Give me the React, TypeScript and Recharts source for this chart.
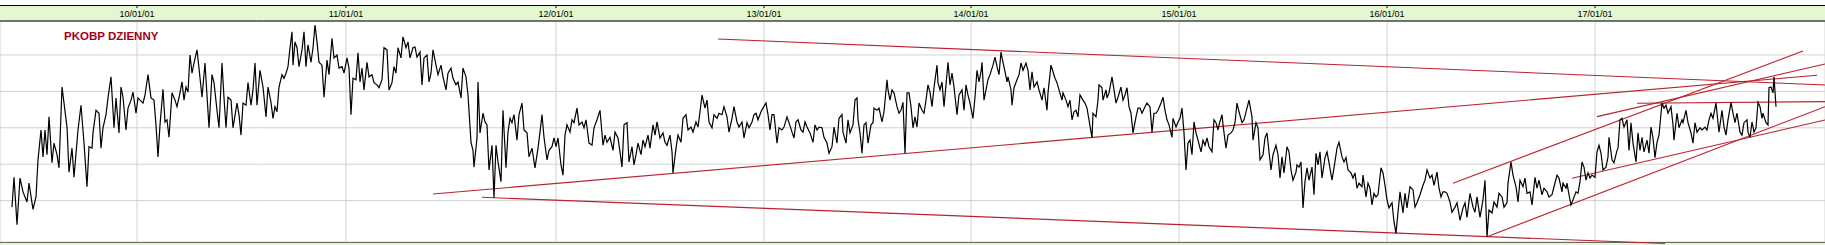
import React from 'react';
import { LineChart, Line, XAxis, YAxis, CartesianGrid, ReferenceLine } from 'recharts';

const TITLE = 'PKOBP DZIENNY';

// bar index (session position) where each year starts, and its label
const yearStartBars = [137, 346, 556, 764, 971, 1179, 1387, 1595];
const yearLabels = ['10/01/01', '11/01/01', '12/01/01', '13/01/01', '14/01/01', '15/01/01', '16/01/01', '17/01/01'];
const priceGrid = [20, 25, 30, 35, 40, 45];

const BAR_MIN = 0;
const BAR_MAX = 1825;
const PRICE_MIN = 19.31;
const PRICE_MAX = 49.67;

// [bar, close]
const y2009: [number, number][] = [[12,24.1],[14,28.2],[17,21.7],[20,28.1],[23,26.2],[27,24.8],[29,27.4],[33,23.8],[36,25.5],[38,30.6],[41,34.7],[43,31.0],[45,34.7],[47,31.3],[49,36.5],[52,30.2],[54,32.9],[57,31.3],[59,29.5],[62,40.6],[67,35.1],[69,28.9],[72,32.2],[74,28.2],[78,34.7],[81,38.1],[84,32.9],[87,26.9],[89,32.4],[92,32.2],[93,34.3],[96,37.4],[99,37.0],[101,32.2],[103,35.0],[106,36.8],[108,39.1],[111,42.0],[114,35.0],[116,39.1],[119,34.3],[121,40.6],[123,39.2],[126,34.7],[128,37.7],[131,38.8],[133,39.9],[136,37.0]];
const y2010: [number, number][] = [[138,39.1],[140,38.8],[143,38.4],[145,39.5],[148,42.3],[151,39.1],[154,38.8],[156,35.4],[158,31.0],[160,35.4],[163,40.3],[165,35.8],[167,36.1],[169,33.7],[172,39.8],[175,38.8],[177,37.9],[180,39.8],[182,41.3],[184,38.8],[186,40.6],[188,39.9],[190,45.0],[192,42.5],[194,43.9],[197,45.7],[199,43.2],[202,39.2],[205,43.9],[209,35.0],[212,42.3],[214,41.2],[217,37.4],[219,35.0],[222,43.9],[224,39.1],[226,35.0],[228,39.2],[231,38.8],[233,35.0],[237,38.4],[239,36.8],[241,34.0],[243,38.4],[246,38.1],[248,41.2],[251,38.1],[253,40.2],[255,43.9],[257,38.1],[260,42.9],[263,40.6],[266,36.5],[268,40.6],[271,38.5],[273,36.3],[275,37.9],[277,37.2],[279,40.6],[282,42.3],[284,41.8],[286,42.5],[288,43.4],[290,46.0],[292,48.2],[293,43.6],[295,46.8],[297,46.0],[299,43.4],[302,45.7],[304,48.2],[306,43.4],[308,46.4],[311,44.0],[313,46.0],[315,49.1],[317,46.8],[319,44.0],[322,43.6],[324,39.2],[327,44.3],[329,42.3],[332,47.3],[334,44.6],[337,45.0],[339,43.2],[342,43.4],[344,42.5]];
const y2011: [number, number][] = [[347,44.6],[349,43.2],[351,36.8],[353,41.8],[356,41.6],[358,45.3],[360,41.3],[362,43.2],[364,40.2],[367,44.0],[369,42.0],[372,42.3],[374,41.2],[377,40.9],[379,40.5],[382,41.6],[384,46.0],[387,45.7],[389,40.2],[392,41.2],[394,43.4],[396,42.5],[398,46.0],[401,44.6],[403,47.5],[406,46.0],[408,46.8],[410,44.6],[413,46.0],[415,46.1],[417,44.7],[420,45.4],[422,40.9],[424,44.6],[427,45.0],[429,41.3],[431,42.5],[433,45.7],[436,43.6],[438,42.3],[441,43.6],[443,42.0],[446,40.2],[448,42.5],[451,43.2],[453,41.8],[456,40.9],[458,41.3],[461,39.1],[463,43.2],[466,42.0],[468,39.5],[471,33.0],[473,31.9],[474,29.6],[477,33.6],[478,41.3],[480,34.3],[483,37.0],[485,35.8],[487,35.4],[489,29.2],[492,32.6],[494,25.4],[496,32.6],[498,30.3],[501,27.6],[503,37.4],[506,29.5],[508,34.4],[510,36.3],[512,35.7],[514,36.8],[517,33.3],[519,36.8],[522,38.4],[524,34.7],[527,34.3],[529,31.0],[532,32.2],[535,29.5],[538,32.2],[540,34.4],[542,36.8],[544,33.7],[547,30.6],[549,31.9],[552,32.4],[554,33.6]];
const y2012: [number, number][] = [[556,32.4],[558,33.6],[561,29.9],[563,28.5],[565,34.0],[567,35.4],[570,34.4],[572,36.1],[574,35.7],[577,37.7],[579,35.4],[582,35.8],[584,35.0],[586,36.1],[589,32.9],[592,32.6],[594,35.0],[597,36.1],[600,37.4],[603,32.6],[605,34.0],[607,33.0],[610,33.7],[613,31.9],[615,34.4],[618,33.6],[620,31.7],[622,29.6],[624,35.4],[627,35.7],[629,30.3],[632,32.4],[634,29.9],[636,31.3],[638,32.9],[641,31.3],[643,33.3],[645,32.4],[648,34.0],[650,32.2],[653,35.4],[655,34.0],[657,35.8],[660,33.6],[663,34.3],[665,33.0],[667,32.6],[670,34.0],[672,31.7],[673,28.8],[676,32.2],[678,34.0],[681,33.0],[683,36.3],[686,36.8],[688,34.7],[691,35.1],[693,34.4],[696,35.8],[698,35.1],[700,37.2],[702,39.5],[705,37.7],[707,38.8],[709,35.8],[712,35.0],[714,36.8],[717,36.3],[719,37.0],[722,36.8],[724,37.9],[727,36.5],[729,34.4],[732,36.3],[734,37.9],[737,35.8],[739,35.1],[742,35.8],[744,33.6],[747,35.7],[749,35.0],[752,35.8],[754,36.8],[756,37.0],[758,36.1],[761,37.2],[763,37.7]];
const y2013: [number, number][] = [[766,38.4],[768,36.8],[770,34.7],[772,36.8],[774,36.8],[777,32.9],[779,35.0],[782,34.7],[784,35.1],[787,36.5],[789,35.7],[792,34.4],[794,33.6],[796,35.8],[798,36.1],[801,34.7],[803,34.4],[805,35.8],[807,35.1],[810,34.3],[813,33.0],[815,35.4],[817,34.7],[819,35.1],[822,35.0],[824,33.7],[827,32.9],[829,31.5],[832,32.4],[834,35.1],[837,32.9],[839,36.3],[842,36.8],[843,34.4],[846,32.9],[848,36.1],[850,34.3],[853,35.4],[855,38.8],[857,39.1],[858,36.1],[860,34.3],[862,31.5],[864,35.4],[866,35.7],[868,32.9],[871,35.4],[873,35.7],[874,37.7],[877,37.4],[879,37.7],[882,35.8],[884,37.2],[887,41.6],[888,40.2],[890,38.8],[892,40.2],[894,39.8],[897,37.9],[899,37.0],[901,37.4],[903,38.5],[905,31.5],[907,39.8],[909,39.8],[911,37.9],[913,35.0],[915,36.5],[917,35.1],[919,38.4],[922,37.4],[924,37.0],[926,38.8],[928,40.9],[930,39.9],[932,37.9],[934,40.5],[937,43.6],[938,41.2],[940,40.2],[942,41.3],[944,37.9],[946,40.9],[948,44.0],[950,40.9],[952,42.5],[954,40.6],[957,36.8],[959,39.5],[962,40.2],[964,37.4],[966,40.9],[968,39.5],[970,38.4]];
const y2014: [number, number][] = [[973,36.3],[975,39.2],[977,42.9],[979,41.3],[981,42.7],[982,44.0],[984,38.8],[986,40.2],[988,41.6],[990,42.3],[993,43.6],[995,44.7],[997,43.4],[999,42.3],[1001,45.4],[1003,44.0],[1005,42.7],[1007,41.3],[1008,42.0],[1011,40.2],[1012,38.1],[1014,40.5],[1017,41.6],[1019,42.3],[1021,43.9],[1023,42.9],[1026,43.9],[1028,42.9],[1030,40.2],[1032,42.7],[1034,40.6],[1037,41.3],[1039,40.2],[1042,38.8],[1044,40.5],[1047,37.4],[1048,39.8],[1051,43.6],[1053,42.7],[1055,41.8],[1057,41.2],[1059,40.2],[1062,38.8],[1063,39.8],[1066,38.8],[1068,37.9],[1070,38.8],[1072,36.1],[1074,37.2],[1076,37.4],[1078,36.5],[1080,39.5],[1083,38.8],[1085,38.4],[1087,37.7],[1089,36.1],[1092,33.6],[1093,37.0],[1096,36.5],[1098,38.8],[1099,40.9],[1102,40.5],[1103,38.8],[1106,40.2],[1107,39.1],[1109,39.8],[1112,42.0],[1114,40.2],[1116,38.4],[1118,39.2],[1121,40.6],[1123,38.8],[1125,39.5],[1127,40.5],[1129,37.9],[1131,37.0],[1133,34.3],[1136,36.5],[1138,37.7],[1140,37.7],[1142,37.0],[1145,37.9],[1147,38.4],[1150,37.9],[1152,34.4],[1154,37.0],[1156,37.0],[1158,37.4],[1161,38.4],[1163,39.2],[1165,37.4],[1167,36.1],[1169,35.4],[1172,33.7],[1173,36.3],[1176,35.1],[1178,35.8]];
const y2015: [number, number][] = [[1180,36.3],[1182,37.7],[1184,34.3],[1186,29.2],[1188,32.9],[1190,33.3],[1192,31.3],[1194,35.8],[1196,34.3],[1198,33.3],[1201,31.7],[1203,33.3],[1205,32.6],[1207,33.6],[1209,32.4],[1212,31.7],[1214,36.1],[1216,35.7],[1218,34.7],[1219,35.4],[1222,36.8],[1223,35.4],[1226,32.2],[1228,34.0],[1231,34.3],[1233,34.7],[1235,35.7],[1237,38.4],[1239,37.2],[1242,35.7],[1244,36.1],[1247,37.7],[1249,38.8],[1252,36.5],[1253,33.3],[1256,35.7],[1258,35.0],[1260,30.6],[1263,31.3],[1265,33.6],[1267,34.3],[1269,31.7],[1271,29.2],[1273,31.3],[1276,32.6],[1278,31.3],[1280,28.1],[1282,31.0],[1284,28.8],[1287,32.4],[1289,31.7],[1291,29.2],[1293,27.8],[1296,28.9],[1297,29.9],[1299,29.6],[1301,30.3],[1303,24.0],[1305,27.6],[1307,29.5],[1309,27.8],[1312,29.6],[1314,25.8],[1316,31.5],[1318,29.9],[1320,31.7],[1322,28.1],[1325,30.9],[1327,31.7],[1329,30.2],[1332,27.8],[1334,29.5],[1337,32.2],[1339,33.0],[1342,31.0],[1344,30.3],[1346,30.9],[1348,29.2],[1351,28.8],[1353,28.1],[1355,28.8],[1357,26.7],[1359,27.4],[1362,26.9],[1363,28.5],[1366,25.5],[1368,27.4],[1370,26.7],[1372,24.4],[1374,26.0],[1376,25.5],[1378,25.8],[1381,29.5],[1383,28.8],[1385,27.1]];
const y2016: [number, number][] = [[1387,25.1],[1389,24.0],[1392,24.7],[1394,22.1],[1396,20.5],[1398,23.4],[1400,26.2],[1403,23.3],[1405,26.0],[1407,24.0],[1410,26.9],[1413,26.5],[1415,24.1],[1417,24.7],[1420,25.8],[1423,27.1],[1425,27.8],[1427,29.2],[1430,28.1],[1432,28.5],[1434,27.1],[1437,28.9],[1439,26.7],[1441,25.5],[1443,26.2],[1445,26.2],[1447,26.0],[1450,24.8],[1452,23.4],[1455,24.1],[1457,24.7],[1460,22.3],[1463,24.0],[1465,24.7],[1467,22.7],[1470,26.0],[1473,24.1],[1475,23.4],[1477,25.5],[1480,22.7],[1483,25.1],[1485,27.8],[1487,20.0],[1489,23.7],[1492,23.3],[1494,24.8],[1497,24.1],[1499,26.0],[1502,25.5],[1504,24.1],[1507,24.7],[1508,27.4],[1511,30.3],[1513,28.5],[1516,26.9],[1518,24.8],[1520,27.8],[1523,26.9],[1525,28.1],[1527,26.0],[1530,26.2],[1532,24.4],[1535,28.2],[1537,26.7],[1539,27.8],[1542,25.8],[1544,26.7],[1547,26.2],[1549,25.5],[1552,25.8],[1554,26.9],[1557,28.5],[1559,28.1],[1562,26.2],[1563,27.4],[1566,26.7],[1567,27.4],[1569,25.8],[1571,24.4],[1573,25.1],[1576,26.2],[1578,26.0],[1580,27.6],[1582,30.3],[1584,29.6],[1586,27.8],[1588,28.8],[1590,28.1],[1592,28.5]];
const y2017: [number, number][] = [[1595,28.2],[1597,31.7],[1599,32.6],[1601,31.5],[1603,29.2],[1606,29.6],[1608,31.0],[1609,33.7],[1612,30.6],[1614,30.2],[1617,31.9],[1618,32.2],[1620,36.1],[1622,36.3],[1624,35.1],[1627,36.1],[1629,31.9],[1631,35.7],[1633,32.9],[1636,30.3],[1638,34.3],[1640,31.9],[1642,33.7],[1644,31.7],[1647,33.3],[1649,31.5],[1651,35.1],[1653,33.6],[1655,30.9],[1657,33.0],[1659,34.0],[1662,38.4],[1664,37.7],[1666,38.1],[1668,37.0],[1671,37.9],[1673,35.4],[1674,33.3],[1677,37.0],[1679,35.0],[1682,36.1],[1683,35.7],[1686,37.4],[1688,35.7],[1691,34.3],[1693,32.9],[1695,35.7],[1697,34.4],[1700,35.0],[1702,34.7],[1705,35.1],[1707,34.7],[1709,36.1],[1711,37.0],[1713,36.3],[1716,38.4],[1718,35.7],[1719,34.4],[1722,37.4],[1724,35.1],[1726,34.0],[1728,36.1],[1731,38.5],[1733,37.0],[1735,35.7],[1737,37.0],[1740,34.4],[1742,34.0],[1744,35.7],[1747,36.1],[1748,34.4],[1750,33.7],[1752,35.8],[1754,34.4],[1756,35.0],[1758,38.5],[1760,37.9],[1762,36.3],[1763,37.0],[1766,35.7],[1768,35.4],[1769,40.5],[1771,40.6],[1773,39.8],[1774,42.0],[1776,37.9]];

// trend lines: [barFrom, priceFrom, barTo, priceTo]
const trendLines: [number, number, number, number][] = [
  [718, 47.2, 1825, 40.88],
  [433, 25.9, 1817, 42.21],
  [482, 25.45, 1665, 19.1],
  [1453, 27.38, 1803, 45.55],
  [1597, 36.53, 1825, 43.77],
  [1637, 38.37, 1825, 38.59],
  [1487, 20.04, 1825, 37.9],
  [1572, 28.06, 1825, 36.07],
];

const data = [...y2009, ...y2010, ...y2011, ...y2012, ...y2013, ...y2014, ...y2015, ...y2016, ...y2017].map(
  ([bar, close]) => ({ bar, close })
);

const HEADER_GREEN = '#e3f7d0';
const TREND_RED = '#b9222c';
const FONT = '"Liberation Sans", Arial, sans-serif';

const labelFor = (v: number) => {
  const i = yearStartBars.indexOf(v);
  return i >= 0 ? yearLabels[i] : '';
};

const YearTick = (props: any) => {
  const { x, y, payload } = props;
  return (
    <g>
      <line x1={x} x2={x} y1={y - 12} y2={y - 9} stroke="#000" strokeWidth={1} />
      <text x={x} y={y} textAnchor="middle" fontSize={9} fontFamily={FONT} fill="#000">
        {labelFor(payload.value)}
      </text>
    </g>
  );
};

export default function App() {
  return (
    <div style={{ position: 'fixed', left: 0, top: 0, width: 1825, height: 245, background: '#fff', overflow: 'hidden' }}>
      <div
        style={{
          position: 'absolute', left: 0, top: 5, width: 1825, height: 15,
          borderTop: '1px solid #000', background: HEADER_GREEN,
        }}
      />
      <div
        style={{
          position: 'absolute', left: 0, top: 242, width: 1825, height: 3,
          borderTop: '1px solid #000', background: HEADER_GREEN,
        }}
      />
      <LineChart width={1825} height={245} data={data} margin={{ top: 5, right: 0, bottom: 3, left: 0 }}>
        <CartesianGrid stroke="#d2d2d2" strokeWidth={1} />
        <YAxis type="number" domain={[PRICE_MIN, PRICE_MAX]} ticks={priceGrid} hide allowDataOverflow />
        <XAxis
          dataKey="bar"
          type="number"
          domain={[BAR_MIN, BAR_MAX]}
          ticks={yearStartBars}
          orientation="top"
          height={16}
          tickSize={0}
          tickMargin={4}
          tickLine={false}
          interval={0}
          stroke="#000"
          tick={<YearTick />}
          allowDataOverflow
        />
        {trendLines.map(([x1, y1, x2, y2], i) => (
          <ReferenceLine
            key={i}
            segment={[{ x: x1, y: y1 }, { x: x2, y: y2 }]}
            stroke={TREND_RED}
            strokeWidth={1.1}
            ifOverflow="visible"
          />
        ))}
        <Line type="linear" dataKey="close" stroke="#000" strokeWidth={1.2} dot={false} isAnimationActive={false} />
      </LineChart>
      <div
        style={{
          position: 'absolute',
          left: 64,
          top: 30,
          fontFamily: FONT,
          fontWeight: 'bold',
          fontSize: 11.5,
          lineHeight: '12px',
          color: '#a3001b',
          whiteSpace: 'nowrap',
        }}
      >
        {TITLE}
      </div>
    </div>
  );
}
